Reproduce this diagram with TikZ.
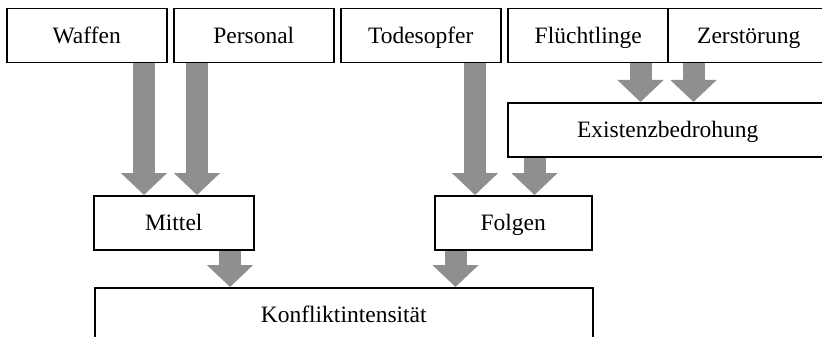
\documentclass[tikz,border=0pt]{standalone}
\usepackage{fontspec}
\setmainfont{Liberation Serif}
\usetikzlibrary{arrows.meta}
\definecolor{arrowgray}{RGB}{143,143,143}
\tikzset{
  box/.style={draw=black, line width=1.5pt, fill=white, rectangle, inner sep=0pt,
    minimum height=54pt, anchor=north west, font=\fontsize{23.5}{26}\selectfont,
    text depth=0pt, text height=16pt},
  fat/.style={draw=arrowgray, line width=22pt, line cap=butt,
    -{Triangle[width=45pt,length=22pt,fill=arrowgray,color=arrowgray]}}
}
\begin{document}
\begin{tikzpicture}[x=1pt,y=-1pt]
\useasboundingbox (0,0) rectangle (822,337);
\begin{scope}
\clip (0,0) rectangle (822,337);
% top row
\node[box, minimum width=160pt] (waffen) at (6,8) {Waffen};
\node[box, minimum width=160pt] (personal) at (173,8) {Personal};
\node[box, minimum width=160pt] (todes) at (340,8) {Todesopfer};
\node[box, minimum width=161pt] (fluecht) at (507,8) {Flüchtlinge};
\node[box, minimum width=162pt] (zerst) at (667,8) {Zerstörung};
% middle
\node[box, minimum width=320pt] (exist) at (507,102) {Existenzbedrohung};
\node[box, minimum width=160pt] (mittel) at (93,195) {Mittel};
\node[box, minimum width=157pt] (folgen) at (434,195) {Folgen};
% bottom
\node[box, minimum width=498pt] (konflikt) at (94,287) {Konfliktintensität};
% arrow columns
\coordinate (c1) at (144,0);
\coordinate (c2) at (197,0);
\coordinate (c3) at (230,0);
\coordinate (c4) at (475,0);
\coordinate (c5) at (534.5,0);
\coordinate (c6) at (455.5,0);
\coordinate (c7) at (640.5,0);
\coordinate (c8) at (693.5,0);
% connectors
\draw[fat] (waffen.south -| c1) -- (mittel.north -| c1);
\draw[fat] (personal.south -| c2) -- (mittel.north -| c2);
\draw[fat] (mittel.south -| c3) -- (konflikt.north -| c3);
\draw[fat] (todes.south -| c4) -- (folgen.north -| c4);
\draw[fat] (exist.south -| c5) -- (folgen.north -| c5);
\draw[fat] (folgen.south -| c6) -- (konflikt.north -| c6);
\draw[fat] (fluecht.south -| c7) -- (exist.north -| c7);
\draw[fat] (zerst.south -| c8) -- (exist.north -| c8);
\end{scope}
\end{tikzpicture}
\end{document}
